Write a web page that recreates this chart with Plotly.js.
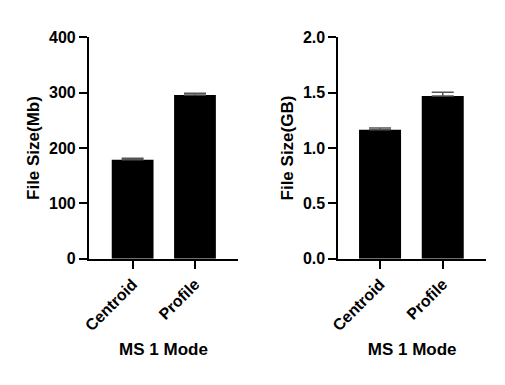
<!DOCTYPE html>
<html>
<head>
<meta charset="utf-8">
<script src="https://cdn.plot.ly/plotly-3.0.1.min.js"></script>
<style>html,body{margin:0;padding:0;background:#fff;}#chart{width:505px;height:385px;}</style>
</head>
<body>
<div id="chart"></div>
<script>
const modes = ['Centroid', 'Profile'];
const sizeMb = [179, 296];
const errMb = [2.5, 3];
const sizeGB = [1.165, 1.47];
const errGB = [0.015, 0.033];
const yTicksMb = [0, 100, 200, 300, 400];
const yTicksGB = [0, 0.5, 1.0, 1.5, 2.0];

const FONT = 'Liberation Sans, Arial, Helvetica, sans-serif';

function barTrace(y, err, xa, ya) {
  return {
    type: 'bar', x: modes, y: y, xaxis: xa, yaxis: ya,
    width: 0.67,
    marker: {color: '#000000', line: {width: 0}},
    error_y: {type: 'data', symmetric: false, array: err, arrayminus: [0, 0],
              color: '#555555', thickness: 1.5, width: 11},
    showlegend: false, hoverinfo: 'skip'
  };
}

const common = {
  showline: true, linecolor: '#000', linewidth: 2,
  ticks: 'outside', ticklen: 8, tickwidth: 2, tickcolor: '#000',
  showgrid: false, zeroline: false, automargin: false,
  tickfont: {family: FONT, size: 16, color: '#000', weight: 'bold'}
};

function xAxis(domain, range, anchor) {
  return Object.assign({}, common, {
    domain: domain, range: range, anchor: anchor, type: 'category',
    tickangle: -45,
    tickfont: {family: FONT, size: 16, color: '#000', weight: 'bold'},
    title: {text: 'MS 1 Mode', standoff: 10,
            font: {family: FONT, size: 17, color: '#000', weight: 'bold'}}
  });
}

function yAxis(domain, range, ticks, fmt, title, anchor) {
  return Object.assign({}, common, {
    domain: domain, range: range, anchor: anchor,
    tickmode: 'array', tickvals: ticks, tickformat: fmt,
    title: {text: title, standoff: 5,
            font: {family: FONT, size: 17, color: '#000', weight: 'bold'}}
  });
}

const data = [
  barTrace(sizeMb, errMb, 'x', 'y'),
  barTrace(sizeGB, errGB, 'x2', 'y2')
];

const yDom = [0.328, 0.903];
const layout = {
  width: 505, height: 385,
  margin: {l: 0, r: 0, t: 0, b: 0},
  paper_bgcolor: '#fff', plot_bgcolor: '#fff',
  font: {family: FONT, color: '#000'},
  bargap: 0.3,
  xaxis: xAxis([0.1762, 0.4713], [-0.70, 1.69], 'y'),
  yaxis: yAxis(yDom, [0, 400], yTicksMb, 'd', 'File Size(Mb)', 'x'),
  xaxis2: xAxis([0.670, 0.9624], [-0.665, 1.69], 'y2'),
  yaxis2: yAxis(yDom, [0, 2.0], yTicksGB, '.1f', 'File Size(GB)', 'x2')
};

Plotly.newPlot('chart', data, layout, {displayModeBar: false, staticPlot: true});
</script>
</body>
</html>
